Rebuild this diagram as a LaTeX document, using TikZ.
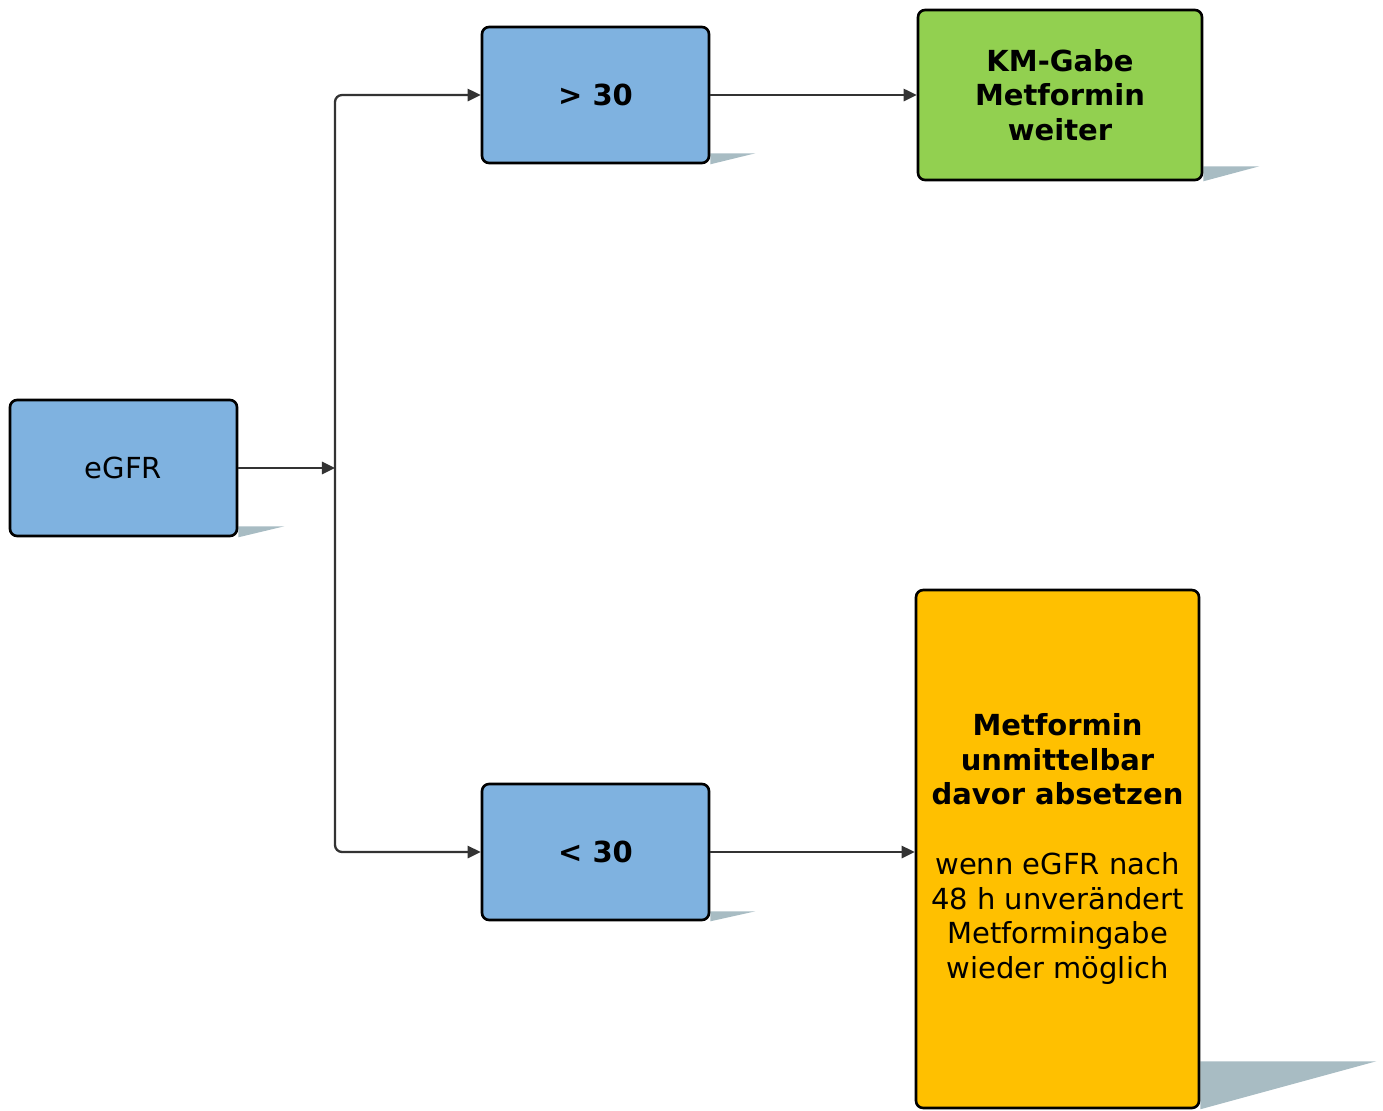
\documentclass[tikz,border=0pt]{standalone}
\usepackage{fontspec}
\setmainfont{DejaVu Sans}
\usetikzlibrary{arrows.meta,backgrounds}

\definecolor{boxblue}{HTML}{7FB2E0}
\definecolor{boxgreen}{HTML}{92D050}
\definecolor{boxorange}{HTML}{FFC000}
\definecolor{shadowgray}{HTML}{A8BCC3}
\definecolor{linegray}{HTML}{333333}

\tikzset{
    stepbox/.style={draw=black, line width=1.5pt, rounded corners=4pt, align=center,
        inner sep=0pt, text=black, font=\fontsize{16.5}{19.8}\selectfont},
    bluebox/.style={stepbox, fill=boxblue, minimum width=4.54cm, minimum height=2.72cm},
    flow/.style={draw=linegray, line width=1.3pt, -{Triangle[length=7.5pt,width=7pt]}},
}

% shadow wedge below right of a box: name, length, height
\newcommand{\dropshadow}[3]{\fill[shadowgray] ([yshift=#3]#1.south east) -- ++(#2,0) -- (#1.south east) -- cycle;}

\begin{document}
\begin{tikzpicture}[x=0.02cm,y=-0.02cm]
    \useasboundingbox (0,0) rectangle (1383,1110);

    \node[bluebox] (egfr) at (123.5,468) {eGFR};
    \node[bluebox] (gt) at (595.5,95) {\textbf{> 30}};
    \node[bluebox] (lt) at (595.5,852) {\textbf{< 30}};
    \node[stepbox, fill=boxgreen, minimum width=5.68cm, minimum height=3.4cm] (weiter) at (1060,95)
        {\textbf{KM-Gabe}\\\textbf{Metformin}\\\textbf{weiter}};
    \node[stepbox, fill=boxorange, minimum width=5.66cm, minimum height=10.36cm] (absetzen) at (1057.5,849)
        {\textbf{Metformin}\\\textbf{unmittelbar}\\\textbf{davor absetzen}\\[19.8pt]wenn eGFR nach\\48 h unverändert\\Metformingabe\\wieder möglich};
    \coordinate (split) at (335,468);

    \begin{scope}[on background layer]
        \dropshadow{egfr}{46}{0.22cm}
        \dropshadow{gt}{45}{0.22cm}
        \dropshadow{lt}{45}{0.2cm}
        \dropshadow{weiter}{56}{0.3cm}
        \dropshadow{absetzen}{176}{0.96cm}
    \end{scope}

    \draw[flow] (egfr) -- (split);
    \draw[flow, rounded corners=4pt] (split) |- (gt);
    \draw[flow, rounded corners=4pt] (split) |- (lt);
    \draw[flow] (gt) -- (weiter);
    \draw[flow] (lt.east) -- (lt -| absetzen.west);
\end{tikzpicture}
\end{document}
